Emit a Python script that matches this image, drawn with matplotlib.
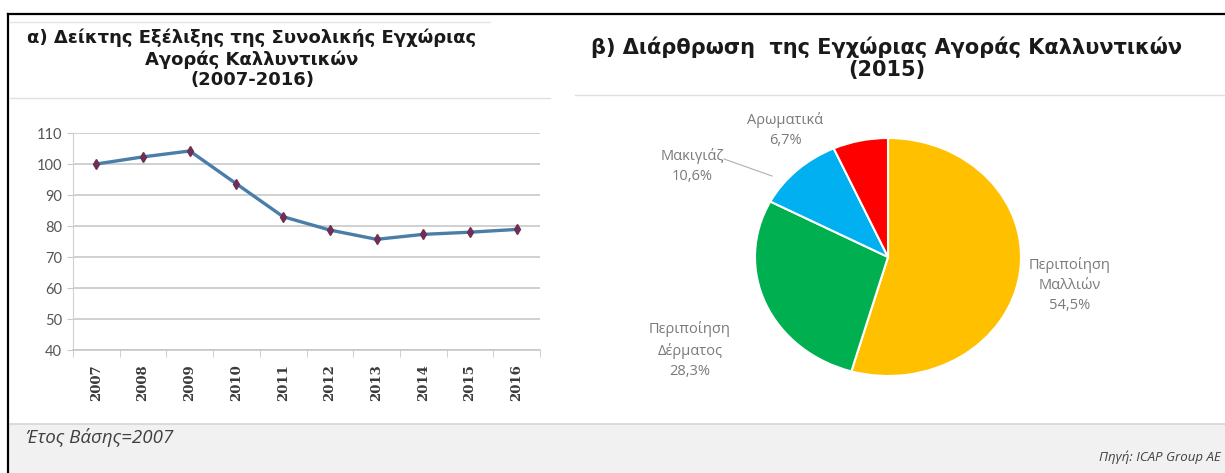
import matplotlib
matplotlib.use("Agg")
import matplotlib.pyplot as plt
from matplotlib.lines import Line2D
from matplotlib.patches import Rectangle

# ---------------- data ----------------
years = ["2007", "2008", "2009", "2010", "2011", "2012", "2013", "2014", "2015", "2016"]
index_values = [100, 102.3, 104.2, 93.6, 83.0, 78.7, 75.7, 77.3, 78.0, 78.9]
y_ticks = [40, 50, 60, 70, 80, 90, 100, 110]

pie_labels = ["Περιποίηση\nΜαλλιών", "Περιποίηση\nΔέρματος", "Μακιγιάζ", "Αρωματικά"]
pie_values = [54.5, 28.3, 10.6, 6.7]
pie_value_text = ["54,5%", "28,3%", "10,6%", "6,7%"]
pie_colors = ["#FFC000", "#00B050", "#00B0F0", "#FF0000"]

title_a = "α) Δείκτης Εξέλιξης της Συνολικής Εγχώριας\nΑγοράς Καλλυντικών\n(2007-2016)"
title_b = "β) Διάρθρωση  της Εγχώριας Αγοράς Καλλυντικών\n(2015)"
note_left = "Έτος Βάσης=2007"
note_right = "Πηγή: ICAP Group AE"

# ---------------- figure ----------------
W, H = 1225, 473
fig = plt.figure(figsize=(W / 100, H / 100), dpi=100)
fig.patch.set_facecolor("white")

def fx(x):
    return x / W

def fy(y):
    return 1 - y / H

def axes_px(x0, y0, x1, y1):
    return fig.add_axes([fx(x0), fy(y1), fx(x1) - fx(x0), fy(y0) - fy(y1)])

# background decorations (frame, separators, footer band)
fig.add_artist(Rectangle((fx(8), 0), 1 - fx(8), fy(424), transform=fig.transFigure,
                         facecolor="#f1f1f1", edgecolor="none", zorder=0))
fig.add_artist(Line2D([fx(8), 1], [fy(424), fy(424)], transform=fig.transFigure,
                      color="#d6d6d6", lw=1.2))
fig.add_artist(Line2D([fx(8), 1], [fy(14.5), fy(14.5)], transform=fig.transFigure,
                      color="black", lw=1.6))
fig.add_artist(Line2D([fx(7.5), fx(7.5)], [0, fy(14.5)], transform=fig.transFigure,
                      color="black", lw=1.6))
fig.add_artist(Line2D([fx(10), fx(490)], [fy(22), fy(22)], transform=fig.transFigure,
                      color="#e4e4e4", lw=1.0))
fig.add_artist(Line2D([fx(10), fx(550)], [fy(98), fy(98)], transform=fig.transFigure,
                      color="#e0e0e0", lw=1.0))
fig.add_artist(Line2D([fx(575), 1], [fy(95), fy(95)], transform=fig.transFigure,
                      color="#e0e0e0", lw=1.0))

# titles
fig.text(fx(252), fy(59), title_a, ha="center", va="center", fontsize=13,
         fontweight="bold", family="DejaVu Sans", color="#1a1a1a", linespacing=1.18)
fig.text(fx(887), fy(58), title_b, ha="center", va="center", fontsize=15,
         fontweight="bold", family="DejaVu Sans", color="#1a1a1a", linespacing=1.12)

# footer
fig.text(fx(26), fy(437), note_left, ha="left", va="center", fontsize=13.5,
         style="italic", family="Open Sans", color="#404040")
fig.text(fx(1221), fy(457), note_right, ha="right", va="center", fontsize=9.5,
         style="italic", family="Open Sans", color="#404040")

# ---------------- line chart ----------------
ax = axes_px(73, 133, 540, 350)
x = list(range(len(years)))
ax.plot(x, index_values, color="#4A7EA8", lw=2.4, zorder=3,
        marker="d", markersize=5, markerfacecolor="#6E2F55", markeredgecolor="#6E2F55")
ax.set_xlim(-0.5, len(years) - 0.5)
ax.set_ylim(40, 110)
ax.set_yticks(y_ticks)
ax.set_yticklabels([str(v) for v in y_ticks], family="Lato", fontsize=10.5, color="#555555")
ax.set_xticks(x)
ax.set_xticklabels(years, rotation=90, family="DejaVu Serif", fontsize=9.5,
                   fontweight="bold", color="#3a3a3a")
ax.tick_params(axis="x", length=0, pad=10)
ax.set_xticks([i - 0.5 for i in range(len(years) + 1)], minor=True)
ax.tick_params(axis="x", which="minor", length=5, color="#c8c8c8", direction="out")
ax.tick_params(axis="y", length=4, color="#c8c8c8", pad=4)
ax.grid(axis="y", color="#c8c8c8", lw=1.2)
ax.set_axisbelow(True)
for s in ["top", "right"]:
    ax.spines[s].set_visible(False)
ax.spines["left"].set_color("#d0d0d0")
ax.spines["bottom"].set_color("#c8c8c8")
ax.spines["bottom"].set_linewidth(1.2)
ax.set_facecolor("none")

# ---------------- pie chart ----------------
cx, cy, rx, ry = 888, 257, 133, 119
pax = axes_px(cx - rx, cy - ry, cx + rx, cy + ry)
wedges, _ = pax.pie(pie_values, colors=pie_colors, startangle=90, counterclock=False,
                    wedgeprops=dict(edgecolor="white", linewidth=1.5), radius=1.0,
                    normalize=True)
pax.set_aspect("auto")
pax.set_xlim(-1, 1)
pax.set_ylim(-1, 1)
pax.axis("off")

label_pos = [(1070, 285), (690, 350), (692, 166), (785, 130)]
for lab, val, (lx, ly) in zip(pie_labels, pie_value_text, label_pos):
    fig.text(fx(lx), fy(ly), lab + "\n" + val, ha="center", va="center",
             fontsize=10.5, family="Open Sans", color="#7a7a7a", linespacing=1.45)

# leader line for Μακιγιάζ
fig.add_artist(Line2D([fx(724), fx(772)], [fy(159), fy(176)], transform=fig.transFigure,
                      color="#b0b0b0", lw=0.8))

fig.savefig("out.png", dpi=100, facecolor="white")
